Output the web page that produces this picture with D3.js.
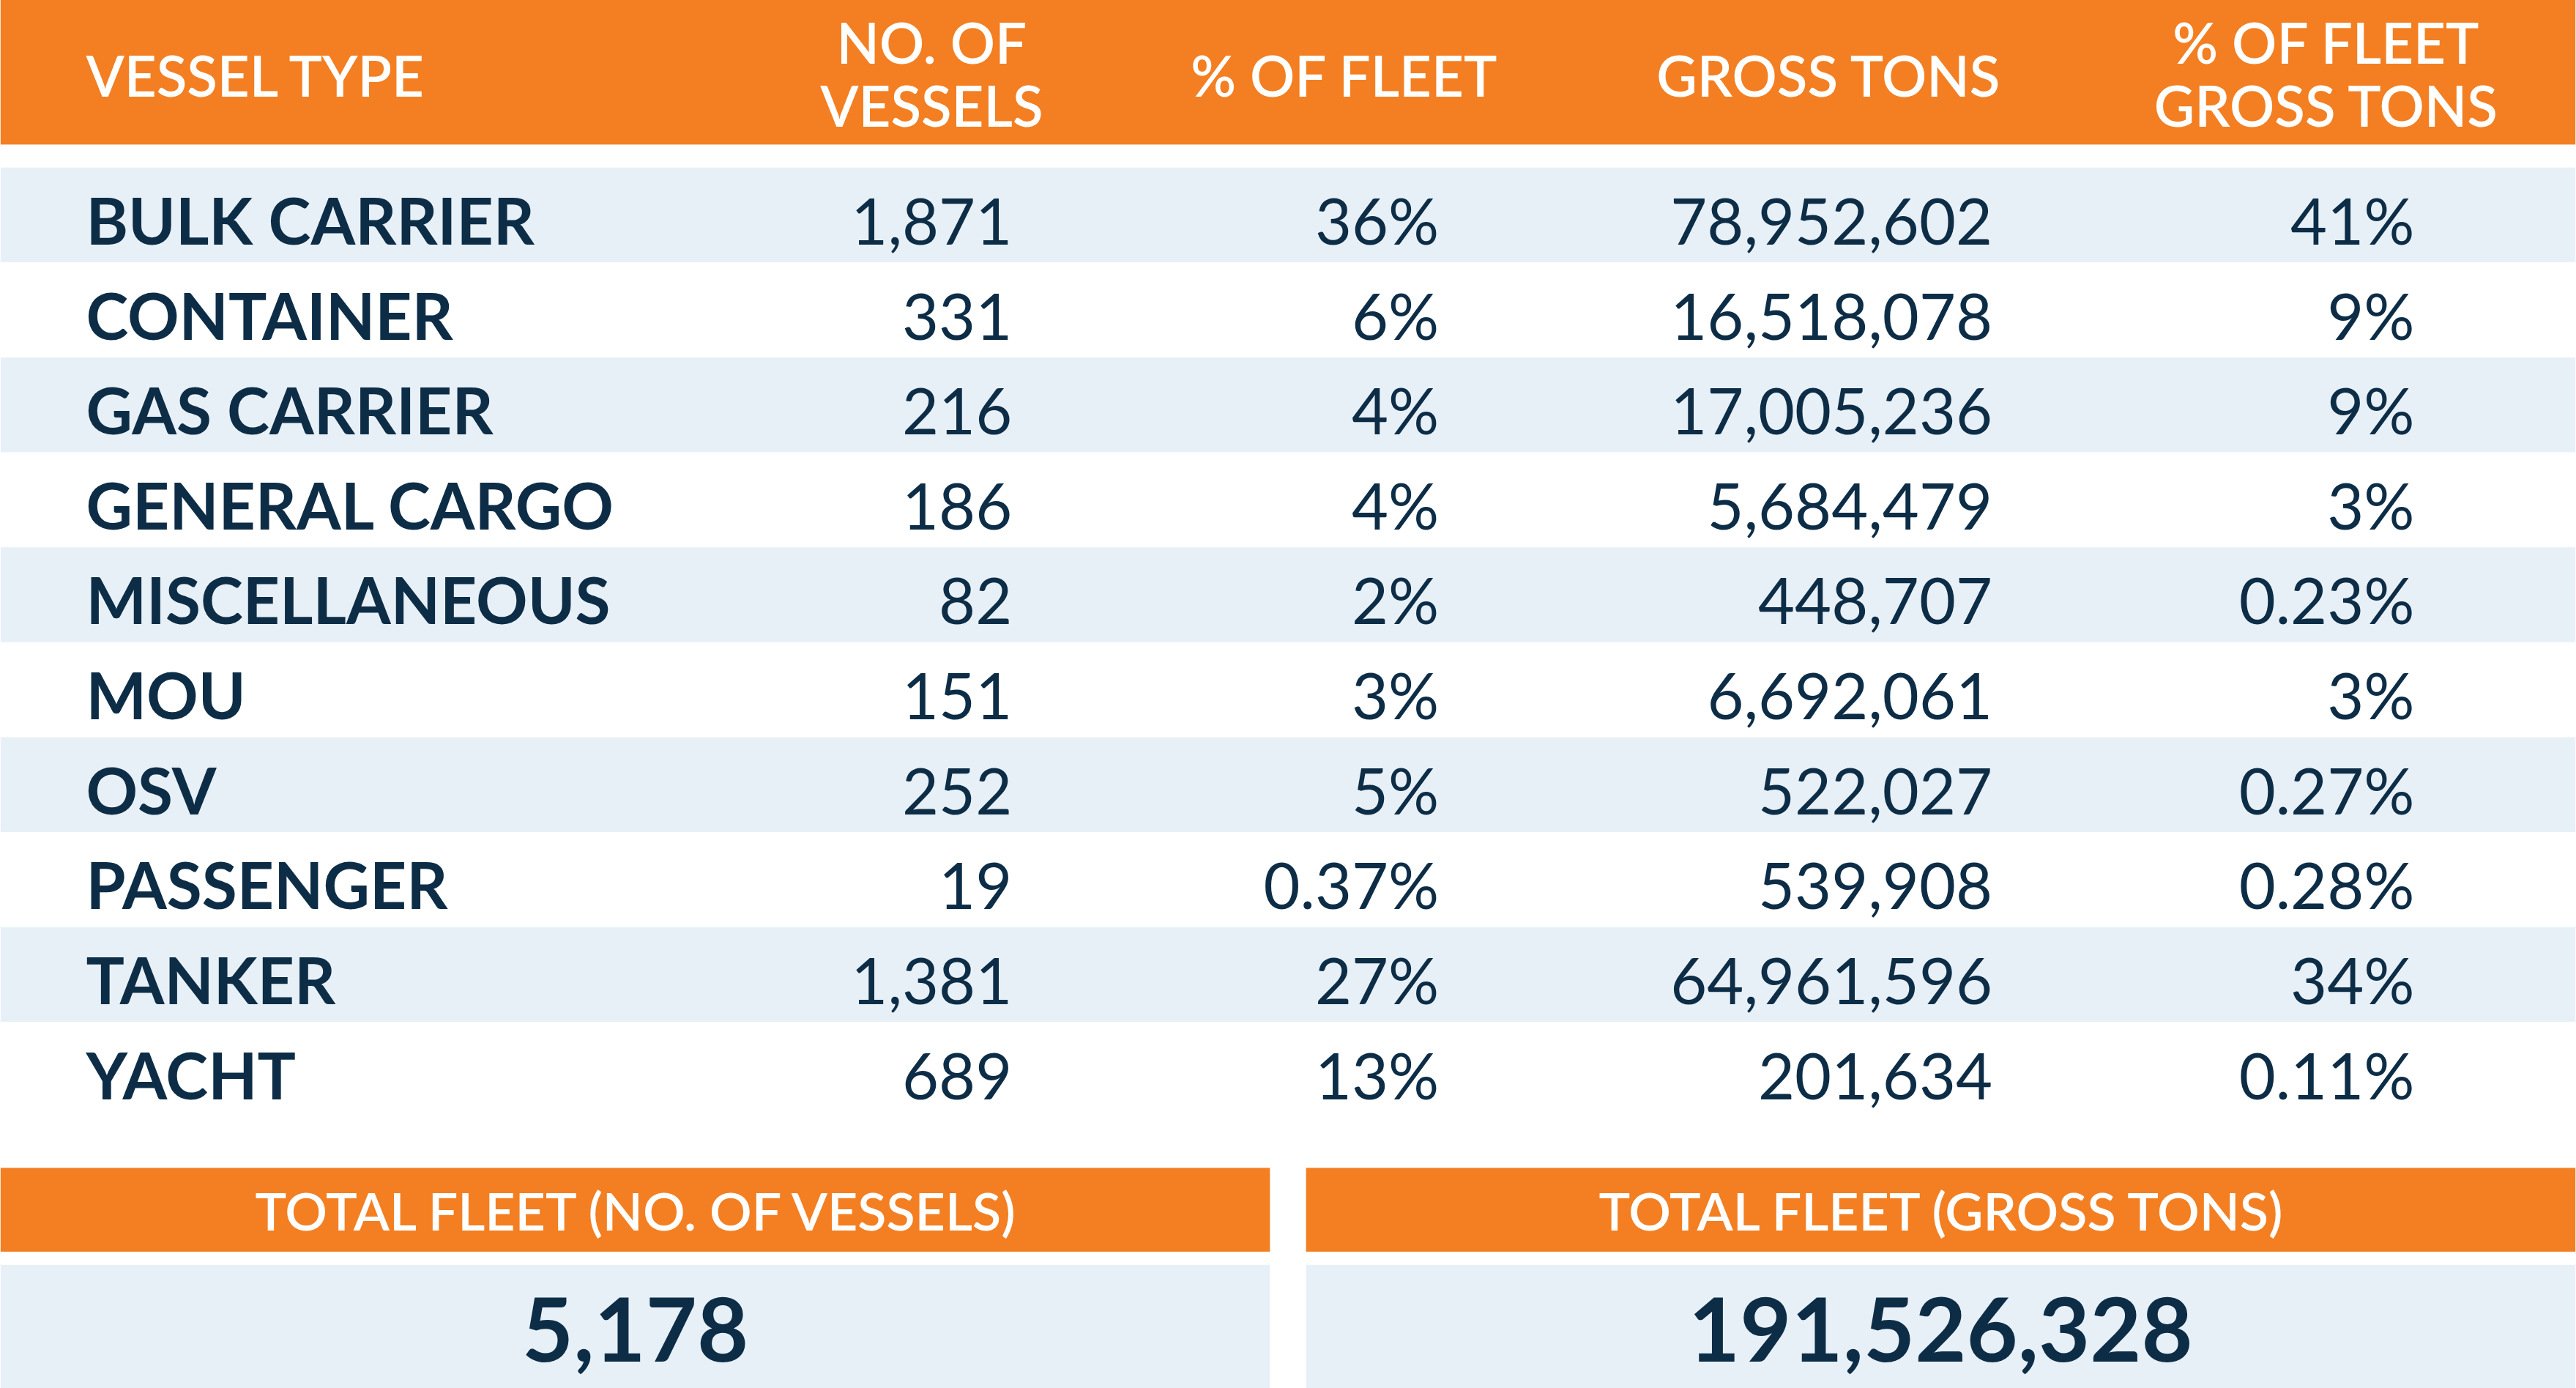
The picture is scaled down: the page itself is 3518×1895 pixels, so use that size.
<!DOCTYPE html>
<html><head><meta charset="utf-8">
<script src="https://cdn.jsdelivr.net/npm/d3@7.9.0/dist/d3.min.js"></script>
<style>html,body{margin:0;padding:0;background:#fff;overflow:hidden}</style>
</head><body>
<svg id="chart" width="3518" height="1895" viewBox="0 0 1568 845"></svg>
<script>
// table data
const vesselTypes = ['BULK CARRIER','CONTAINER','GAS CARRIER','GENERAL CARGO','MISCELLANEOUS','MOU','OSV','PASSENGER','TANKER','YACHT'];
const numVessels = ['1,871','331','216','186','82','151','252','19','1,381','689'];
const pctFleet = ['36%','6%','4%','4%','2%','3%','5%','0.37%','27%','13%'];
const grossTons = ['78,952,602','16,518,078','17,005,236','5,684,479','448,707','6,692,061','522,027','539,908','64,961,596','201,634'];
const pctGross = ['41%','9%','9%','3%','0.23%','3%','0.27%','0.28%','34%','0.11%'];
const headers = [['VESSEL TYPE'],['NO. OF','VESSELS'],['% OF FLEET'],['GROSS TONS'],['% OF FLEET','GROSS TONS']];
const totalLabels = ['TOTAL FLEET (NO. OF VESSELS)','TOTAL FLEET (GROSS TONS)'];
const totalValues = ['5,178','191,526,328'];

const orange = '#f37f22', blue = '#e8f0f7', navy = '#0d2d47';
const font = 'Lato, "Open Sans", sans-serif';
const svg = d3.select('#chart');

// header
svg.append('rect').attr('x',0).attr('y',0).attr('width',1568).attr('height',88).attr('fill',orange);
const headX = [52, 567, 818, 1113, 1416];
const headAnchor = ['start','middle','middle','middle','middle'];
headers.forEach((lines, i) => {
  const t = svg.append('text').attr('x', headX[i]).attr('text-anchor', headAnchor[i])
    .attr('font-family', font).attr('font-weight', 600).attr('font-size', 34).attr('fill', '#fff');
  const y0 = lines.length === 1 ? 59 : 39;
  lines.forEach((l, j) => t.append('tspan').attr('x', headX[i]).attr('y', y0 + j * 38).text(l));
});

// rows
const y = d3.scaleBand().domain(vesselTypes).range([102, 680]);
svg.selectAll('rect.row').data(vesselTypes).join('rect').attr('class','row')
  .attr('x',0).attr('width',1568).attr('y', d => y(d)).attr('height', y.bandwidth())
  .attr('fill', (d, i) => i % 2 === 0 ? blue : '#fff');

const cols = [
  {vals: vesselTypes, x: 52, anchor: 'start', weight: 700, size: 39},
  {vals: numVessels, x: 616, anchor: 'end', weight: 400, size: 38.5},
  {vals: pctFleet, x: 876, anchor: 'end', weight: 400, size: 38.5},
  {vals: grossTons, x: 1213, anchor: 'end', weight: 400, size: 38.5},
  {vals: pctGross, x: 1470, anchor: 'end', weight: 400, size: 38.5}
];
cols.forEach(c => {
  svg.append('g').selectAll('text').data(c.vals).join('text')
    .attr('x', c.x).attr('y', (d, i) => y(vesselTypes[i]) + y.bandwidth() / 2 + 18)
    .attr('text-anchor', c.anchor).attr('font-family', font).attr('font-weight', c.weight)
    .attr('font-size', c.size).attr('fill', navy).text(d => d);
});

// totals
const boxX = [0, 795], boxW = 773;
totalLabels.forEach((l, i) => {
  svg.append('rect').attr('x', boxX[i]).attr('y', 711).attr('width', boxW).attr('height', 51).attr('fill', orange);
  svg.append('rect').attr('x', boxX[i]).attr('y', 770).attr('width', boxW).attr('height', 75).attr('fill', blue);
  svg.append('text').attr('x', boxX[i] + boxW / 2).attr('y', 749).attr('text-anchor','middle')
    .attr('font-family', font).attr('font-weight', 600).attr('font-size', 32).attr('fill','#fff').text(l);
  svg.append('text').attr('x', boxX[i] + boxW / 2).attr('y', 829).attr('text-anchor','middle')
    .attr('font-family', font).attr('font-weight', 700).attr('font-size', 54).attr('fill', navy).text(totalValues[i]);
});
</script>
</body></html>
